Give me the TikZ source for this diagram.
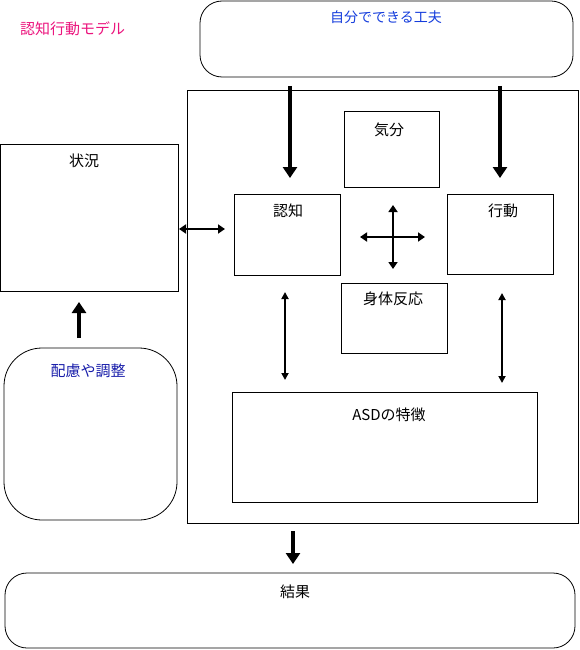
\documentclass[tikz,border=0pt]{standalone}
\usepackage{fontspec}
\newfontfamily\jp{Noto Sans CJK JP}
\usetikzlibrary{arrows.meta}
\definecolor{titlepink}{RGB}{235,20,125}
\definecolor{txtblue}{RGB}{20,60,220}
\definecolor{navyblue}{RGB}{25,30,170}
\tikzset{
  box/.style={draw=black, line width=0.8pt},
  rbox/.style={draw=black, line width=0.8pt, rounded corners=22pt},
  lbl/.style={font=\jp\fontsize{15}{17}\selectfont, inner sep=0pt},
  bigarrow/.style={line width=4.5pt, -{Triangle[length=11pt,width=14pt]}},
  dblarrow/.style={line width=2.6pt, {Triangle[length=7pt,width=9pt]}-{Triangle[length=7pt,width=9pt]}},
  thinarrow/.style={line width=1.8pt, {Triangle[length=7pt,width=7pt]}-{Triangle[length=7pt,width=7pt]}},
}
\begin{document}
\begin{tikzpicture}[x=1pt,y=-1pt]
\useasboundingbox (0,0) rectangle (579,650);
% title
\node[lbl, text=titlepink, anchor=west] (title) at (20,29) {認知行動モデル};
% top rounded box
\draw[rbox] (200,1) rectangle (573,77);
\node[lbl, font=\jp\fontsize{14}{16}\selectfont, text=txtblue] (toplbl) at (386,17) {自分でできる工夫};
% big rectangle
\draw[box] (187,90) rectangle (578,523);
% inner boxes
\draw[box] (344,111) rectangle (439,187);
\node[lbl] (kibun) at (389,130) {気分};
\draw[box] (234,194) rectangle (340,275);
\node[lbl] (ninchi) at (288,211) {認知};
\draw[box] (447,194) rectangle (553,274);
\node[lbl] (koudou) at (503,211) {行動};
\draw[box] (341,283) rectangle (447,353);
\node[lbl] (shintai) at (393,299) {身体反応};
\draw[box] (232,392) rectangle (537,502);
\node[lbl] (asd) at (389,415) {ASDの特徴};
% left
\draw[box] (0,144) rectangle (178,291);
\node[lbl] (joukyou) at (84,161) {状況};
\draw[draw=black, line width=0.8pt, rounded corners=38pt] (4,348) rectangle (177,520);
\node[lbl, text=navyblue] (hairyo) at (88,371) {配慮や調整};
% bottom
\draw[rbox] (5,573) rectangle (575,648);
\node[lbl] (kekka) at (295,592) {結果};
% arrows
\coordinate (a1s) at (290,86); \coordinate (a1e) at (290,178);
\draw[bigarrow] (a1s) -- (a1e);
\coordinate (a2s) at (500,86); \coordinate (a2e) at (500,178);
\draw[bigarrow] (a2s) -- (a2e);
\coordinate (hl) at (179,229); \coordinate (hr) at (225,229);
\draw[dblarrow] (hl) -- (hr);
\coordinate (ct) at (393,205); \coordinate (cb) at (393,269);
\coordinate (cl) at (360,237); \coordinate (cr) at (425,237);
\draw[dblarrow] (ct) -- (cb);
\draw[dblarrow] (cl) -- (cr);
\coordinate (v1t) at (285,292); \coordinate (v1b) at (285,380);
\draw[thinarrow] (v1t) -- (v1b);
\coordinate (v2t) at (502,293); \coordinate (v2b) at (502,383);
\draw[thinarrow] (v2t) -- (v2b);
\coordinate (ups) at (79,338); \coordinate (upe) at (79,302);
\draw[bigarrow] (ups) -- (upe);
\coordinate (dns) at (293,531); \coordinate (dne) at (293,564);
\draw[bigarrow] (dns) -- (dne);
\end{tikzpicture}
\end{document}
